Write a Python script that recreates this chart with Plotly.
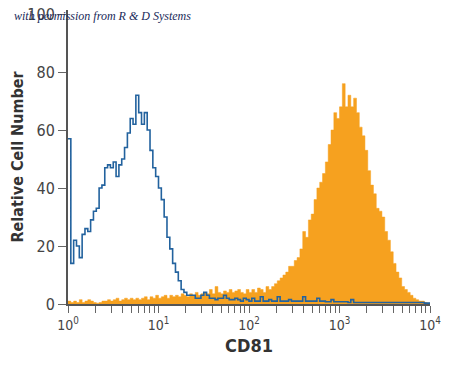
import numpy as np
import plotly.graph_objects as go

# 128 bins, 32 per decade, from 10^0 to 10^4
n_bins = 128
bin_edges = 10 ** (np.arange(n_bins + 1) / 32.0)

isotype_counts = [
    57, 14, 22, 20, 16, 24, 26, 25, 29, 32,
    33, 40, 41, 47, 48, 47, 49, 44, 48, 50,
    54, 59, 64, 62, 72, 66, 62, 66, 60, 53,
    47, 44, 40, 36, 30, 23, 19, 14, 11, 8,
    5, 4, 3, 3, 3, 2, 2, 3, 4, 3,
    2, 2, 1.5, 2, 2, 3, 2, 1.5, 1.5, 2,
    1.5, 1, 2, 1.5, 1, 2, 1, 1, 2.5, 1,
    1, 1.5, 1, 1, 2.5, 1, 1, 1, 1.5, 1,
    1, 1, 1, 2.5, 1, 1, 1, 1, 2, 1,
    1, 0.8, 0.8, 1.5, 0.8, 0.8, 0.8, 0.8, 0.8, 0.5,
    1.5, 0.5, 0.5, 0.5, 0.5, 0.5, 0.5, 0.5, 0.5, 0.5,
    0.5, 0.5, 0.5, 0.5, 0.5, 0.5, 0.5, 0.5, 0.5, 0.5,
    0.5, 0.5, 0.5, 0.5, 0.5, 0.5, 0.3, 0.3,
]

cd81_counts = [
    1, 0.5, 1, 0.5, 1.5, 0.5, 1, 1.5, 1, 0.5,
    0.3, 0.5, 1, 1, 1.5, 1, 1.5, 2, 1, 1.5,
    2, 1.5, 2, 1.5, 2, 1.5, 2, 2.5, 1.5, 2.5,
    2, 3, 2, 2.5, 3, 2, 3, 2.5, 3, 2.5,
    3.5, 3, 2.5, 3.5, 3, 4, 3, 3.5, 4, 3.5,
    5, 3.5, 6, 4, 3.5, 4.5, 4, 5, 4, 4.5,
    5, 4, 3.5, 5, 4, 5, 4, 5.5, 5, 4,
    6, 5, 6, 7, 8, 9, 10, 11, 13, 13,
    15, 16, 19, 25, 23, 29, 31, 36, 40, 42,
    45, 49, 55, 60, 66, 64, 68, 76, 68, 72,
    68, 71, 66, 61, 58, 53, 46, 41, 38, 33,
    32, 30, 25, 22, 18, 14, 11, 9, 6, 5,
    4, 3, 2, 1.5, 1, 1, 0.5, 0.3,
]

x_tick_vals = [1, 10, 100, 1000, 10000]
x_tick_text = ["10<sup>0</sup>", "10<sup>1</sup>", "10<sup>2</sup>",
               "10<sup>3</sup>", "10<sup>4</sup>"]
y_tick_vals = [0, 20, 40, 60, 80, 100]

# step coordinates from the bins
xs = list(bin_edges)
cd81_y = list(cd81_counts) + [cd81_counts[-1]]
iso_y = list(isotype_counts) + [isotype_counts[-1]]

# minor tick positions (2..9 per decade)
minor_vals = []
for d in range(4):
    for m in range(2, 10):
        minor_vals.append(m * 10 ** d)
all_vals = sorted(x_tick_vals + minor_vals)
all_text = [x_tick_text[x_tick_vals.index(v)] if v in x_tick_vals else "" for v in all_vals]

fig = go.Figure()
fig.add_trace(go.Scatter(
    x=xs, y=cd81_y, mode="lines", line=dict(shape="hv", color="#F6A11F", width=0.5),
    fill="tozeroy", fillcolor="#F6A11F", hoverinfo="skip", showlegend=False,
))
fig.add_trace(go.Scatter(
    x=xs, y=iso_y, mode="lines", line=dict(shape="hv", color="#22629E", width=1.6),
    hoverinfo="skip", showlegend=False,
))

tick_font = "DejaVu Sans Condensed, Liberation Sans Narrow, Roboto, sans-serif"

fig.update_layout(
    width=450, height=367,
    margin=dict(l=60, r=28, t=2, b=71),
    paper_bgcolor="white", plot_bgcolor="white",
    xaxis=dict(
        type="log", range=[0, 4], tickvals=all_vals, ticktext=all_text,
        ticks="outside", ticklen=7, tickwidth=1, tickcolor="#666",
        showline=True, linecolor="#555", linewidth=2, showgrid=False, zeroline=False,
        tickfont=dict(family=tick_font, size=14, color="#444"),
        ticklabeloverflow="allow",
        title=dict(text="<b>CD81</b>", font=dict(family=tick_font, size=18, color="#333"), standoff=8),
        automargin=False,
    ),
    yaxis=dict(
        range=[0, 101.4], tickvals=y_tick_vals,
        ticks="outside", ticklen=8, tickwidth=1, tickcolor="#666",
        showline=True, linecolor="#555", linewidth=2, showgrid=False, zeroline=False,
        tickfont=dict(family=tick_font, size=16, color="#444"),
        ticklabeloverflow="allow",
        title=dict(text="<b>Relative Cell Number</b>", font=dict(family=tick_font, size=16, color="#333"), standoff=12),
        automargin=False,
    ),
    annotations=[dict(
        text="<i>with permission from R &amp; D Systems</i>",
        xref="paper", yref="paper", x=-0.155, y=0.98, xanchor="left", yanchor="middle",
        showarrow=False, font=dict(family="Liberation Serif, DejaVu Serif, serif", size=12, color="#1a2a5a"),
    )],
)

fig.write_html("out.html")
